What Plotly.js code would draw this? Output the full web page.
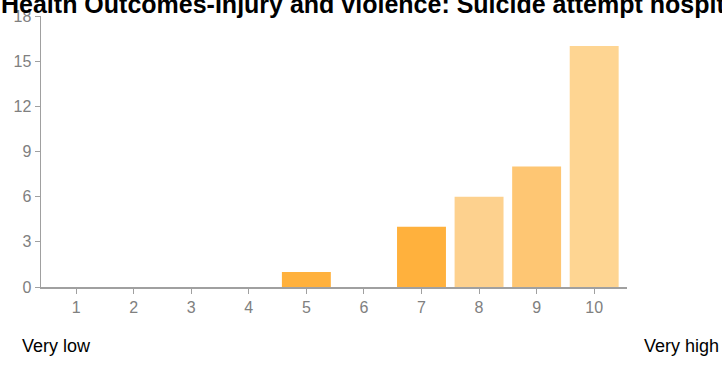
<!DOCTYPE html>
<html><head><meta charset="utf-8">
<script src="https://cdn.plot.ly/plotly-3.0.1.min.js"></script>
<style>html,body{margin:0;padding:0;background:#fff}#chart{width:722px;height:368px}</style>
</head><body><div id="chart"></div>
<script>
const categories = [1, 2, 3, 4, 5, 6, 7, 8, 9, 10];
const counts = [0, 0, 0, 0, 1, 0, 4, 6, 8, 16];
const barColors = ["#ffb13d","#ffb13d","#ffb13d","#ffb13d","#ffb13d","#ffb13d","#ffb13d","#fdd18e","#fec673","#fed592"];
const yTicks = [0, 3, 6, 9, 12, 15, 18];
const titleText = "Health Outcomes-Injury and violence: Suicide attempt hospitalizations";
const lowLabel = "Very low";
const highLabel = "Very high";

const trace = {
  type: "bar", x: categories, y: counts,
  marker: {color: barColors, line: {width: 0}},
  width: 0.85, hoverinfo: "none"
};
const axisColor = "#a0a0a0";
const layout = {
  width: 722, height: 368,
  margin: {l: 41, r: 95, t: 16, b: 81},
  paper_bgcolor: "#fff", plot_bgcolor: "#fff",
  showlegend: false,
  font: {family: "Liberation Sans, Arial, sans-serif", color: "#808080"},
  xaxis: {
    range: [0.39, 10.57], tickvals: categories, ticktext: categories.map(String),
    showgrid: false, zeroline: false, showline: true, linecolor: axisColor, linewidth: 1.5,
    ticks: "outside", ticklen: 5, tickcolor: axisColor, tickwidth: 1,
    tickfont: {size: 16, color: "#808080"}, fixedrange: true
  },
  yaxis: {
    range: [0, 18], tickvals: yTicks, ticktext: yTicks.map(String),
    showgrid: false, zeroline: false, showline: true, linecolor: axisColor, linewidth: 1.5,
    ticks: "outside", ticklen: 5, tickcolor: axisColor, tickwidth: 1,
    tickfont: {size: 16, color: "#808080"}, fixedrange: true
  },
  annotations: [
    {text: "<b>" + titleText + "</b>", xref: "paper", yref: "paper", x: -42/586, xanchor: "left",
     y: 1 + 12/271, yanchor: "middle", showarrow: false, font: {size: 25, color: "#000"}},
    {text: lowLabel, xref: "paper", yref: "paper", x: -21/586, xanchor: "left",
     y: -59/271, yanchor: "middle", showarrow: false, font: {size: 18, color: "#000"}},
    {text: highLabel, xref: "paper", yref: "paper", x: 1 + 94/586, xanchor: "right",
     y: -59/271, yanchor: "middle", showarrow: false, font: {size: 18, color: "#000"}}
  ]
};
Plotly.newPlot("chart", [trace], layout, {displayModeBar: false, staticPlot: true});
</script></body></html>
